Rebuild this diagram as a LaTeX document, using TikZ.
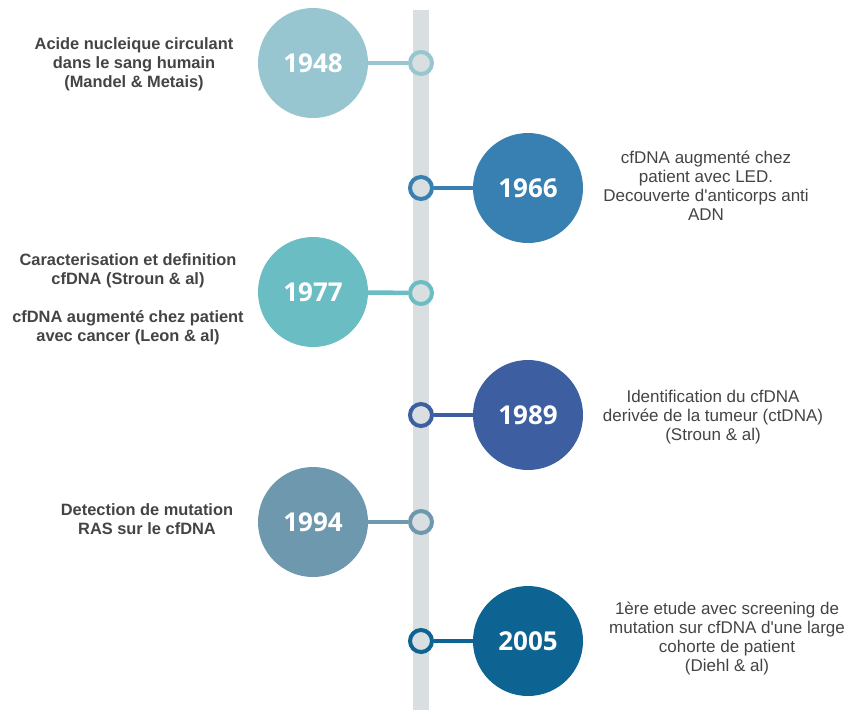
\documentclass[tikz,border=0pt]{standalone}
\usepackage{fontspec}
\setmainfont{Liberation Sans}
\newfontfamily\yearfont{Open Sans}
\definecolor{barc}{HTML}{D9DFE0}
\definecolor{txt}{HTML}{444444}
\definecolor{cA}{HTML}{98C6D0}
\definecolor{cB}{HTML}{3880B1}
\definecolor{cC}{HTML}{6BBDC4}
\definecolor{cD}{HTML}{3D5FA1}
\definecolor{cE}{HTML}{6E98AE}
\definecolor{cF}{HTML}{0D6391}
\newcommand{\apos}{\textquotesingle}
\begin{document}
\begin{tikzpicture}[x=1pt,y=-1pt,
  yr/.style={circle, minimum size=110pt, inner sep=0pt, text=white, font=\yearfont\bfseries\fontsize{26}{26}\selectfont},
  dotc/.style={circle, minimum size=22pt, inner sep=0pt, line width=4pt, fill=barc},
  conn/.style={line width=4.5pt},
  lt/.style={align=center, text=txt, inner sep=0pt, font=\bfseries\fontsize{16.4}{19}\selectfont},
  rt/.style={align=center, text=txt, inner sep=0pt, font=\fontsize{17}{19}\selectfont}]
\useasboundingbox (0,0) rectangle (845,710);
\fill[white] (0,0) rectangle (845,710);
\node[fill=barc, minimum width=16pt, minimum height=700pt, inner sep=0pt, anchor=north] (bar) at (421,10) {};
% 1948
\node[yr, fill=cA] (c1) at (313,63) {1948};
\node[dotc, draw=cA] (d1) at (421,63) {};
\draw[conn, cA] (c1) -- (d1);
\node[lt] (t1) at (134,64) {Acide nucleique circulant\\dans le sang humain\\(Mandel \& Metais)};
% 1966
\node[yr, fill=cB] (c2) at (528,188) {1966};
\node[dotc, draw=cB] (d2) at (421,188) {};
\draw[conn, cB] (c2) -- (d2);
\node[rt] (t2) at (706,186) {cfDNA augmenté chez\\patient avec LED.\\Decouverte d\apos anticorps anti\\ADN};
% 1977
\node[yr, fill=cC] (c3) at (313,292) {1977};
\node[dotc, draw=cC] (d3) at (421,293) {};
\draw[conn, cC] (c3) -- (d3);
\node[lt] (t3) at (128,299) {Caracterisation et definition\\cfDNA (Stroun \& al)\\[19pt]cfDNA augmenté chez patient\\avec cancer (Leon \& al)};
% 1989
\node[yr, fill=cD] (c4) at (528,415) {1989};
\node[dotc, draw=cD] (d4) at (421,415) {};
\draw[conn, cD] (c4) -- (d4);
\node[rt] (t4) at (713,417) {Identification du cfDNA\\derivée de la tumeur (ctDNA)\\(Stroun \& al)};
% 1994
\node[yr, fill=cE] (c5) at (313,522) {1994};
\node[dotc, draw=cE] (d5) at (421,522) {};
\draw[conn, cE] (c5) -- (d5);
\node[lt] (t5) at (147,519) {Detection de mutation\\RAS sur le cfDNA};
% 2005
\node[yr, fill=cF] (c6) at (528,641) {2005};
\node[dotc, draw=cF] (d6) at (421,641) {};
\draw[conn, cF] (c6) -- (d6);
\node[rt] (t6) at (727,638.5) {1ère etude avec screening de\\mutation sur cfDNA d\apos une large\\cohorte de patient\\(Diehl \& al)};
\end{tikzpicture}
\end{document}
